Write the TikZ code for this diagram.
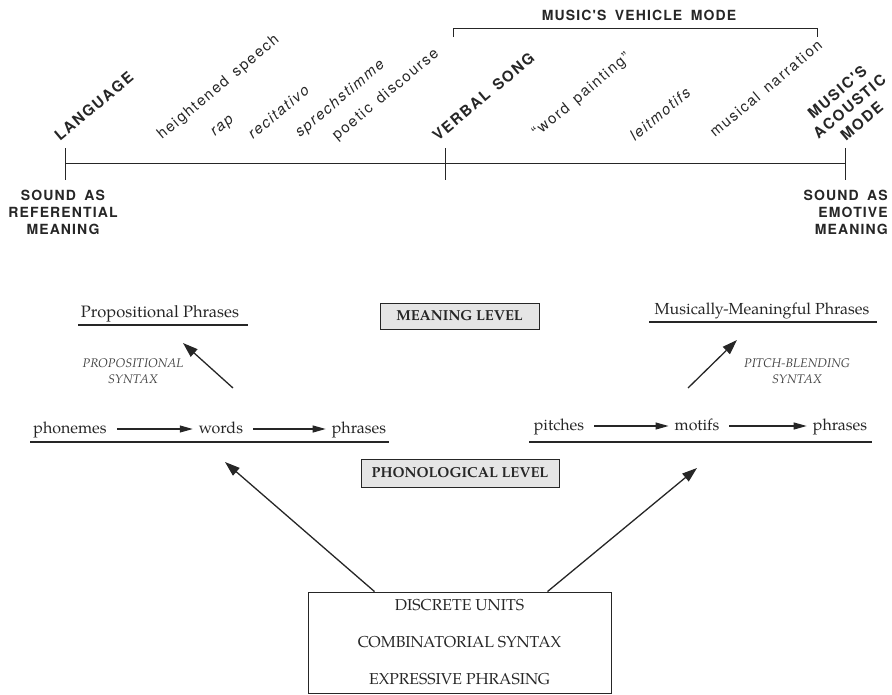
\documentclass[tikz,border=0pt]{standalone}
\usepackage{fontspec}
\setmainfont{TeX Gyre Pagella}
\newfontfamily\helv[LetterSpace=8,WordSpace=1.7]{TeX Gyre Heros}
\newfontfamily\helvr{TeX Gyre Heros}
\usetikzlibrary{arrows.meta}

% espacamento entre letras (para texto inclinado)
\makeatletter
\newcommand\espacar[1]{\espacar@#1\@nil}
\def\espacar@#1{\ifx#1\@nil\else#1\kern1.6pt\expandafter\espacar@\fi}
\makeatother
\newcommand\esp{\hspace{7pt}}

\begin{document}
\begin{tikzpicture}[x=1pt,y=1pt,color=black!85,
eixo/.style={line width=1pt},
rot/.style={rotate=40,anchor=base west,inner sep=0pt,
font=\helvr\fontsize{15}{18}\selectfont},
rotit/.style={rot,font=\helvr\itshape\fontsize{15}{18}\selectfont},
rotcap/.style={rot,font=\helvr\bfseries\fontsize{15}{19}\selectfont},
capa/.style={inner sep=0pt,align=center,
font=\helv\bfseries\fontsize{14}{17}\selectfont},
pal/.style={inner sep=0pt,anchor=base,text height=12pt,text depth=4pt,
font=\fontsize{16}{18}\selectfont},
sub/.style={line width=2.2pt},
nivel/.style={draw,fill=black!10,line width=0.8pt,inner sep=0pt,
minimum height=26pt,
font=\bfseries\fontsize{14.5}{17}\selectfont},
sintaxe/.style={align=center,inner sep=0pt,color=black!75,
font=\itshape\fontsize{12.5}{16}\selectfont},
seta/.style={-{Triangle[length=13pt,width=7pt]},line width=1.1pt,
shorten <=10pt,shorten >=6pt},
grande/.style={-{Triangle[length=15pt,width=10pt]},line width=1.3pt},
caixa/.style={draw,line width=0.9pt,align=center,
minimum width=303pt,minimum height=101pt,
font=\fontsize{15.8}{37}\selectfont}
]
\useasboundingbox (0,0) rectangle (892,-694);

% eixo
\coordinate (lang) at (65,-163);
\coordinate (verb) at (445,-163);
\coordinate (acou) at (845,-163);
\draw[eixo] (lang) -- (acou);
\foreach \p in {lang,verb,acou}
\draw[eixo] ([yshift=15pt]\p) -- ([yshift=-17pt]\p);

% modo veiculo
\draw[eixo] (453,-37) -- (453,-28) -- (817,-28) -- (817,-37);
\node[capa] (vehicle) at (639,-15) {MUSIC'S VEHICLE MODE};

% rotulos inclinados
\node[rotcap] (language) at (60,-142) {\espacar{LANGUAGE}};
\node[rot] (heightened) at (162,-140) {\espacar{heightened}\esp\espacar{speech}};
\node[rotit] (rap) at (215,-137) {\espacar{rap}};
\node[rotit] (recit) at (253,-140) {\espacar{recitativo}};
\node[rotit] (sprech) at (300,-138) {\espacar{sprechstimme}};
\node[rot] (poetic) at (337,-141) {\espacar{poetic}\esp\espacar{discourse}};
\node[rotcap] (verbal) at (438,-142) {\espacar{VERBAL}\esp\espacar{SONG}};
\node[rot] (painting) at (537,-138) {\espacar{“word}\esp\espacar{painting”}};
\node[rotit] (leit) at (635,-142) {\espacar{leitmotifs}};
\node[rot] (narration) at (715,-138) {\espacar{musical}\esp\espacar{narration}};
\node[rotcap,anchor=center,align=center] (acoustic) at (850,-106)
{\espacar{MUSIC'S}\\\espacar{ACOUSTIC}\\\espacar{MODE}};

% extremos
\node[capa] (referential) at (63,-212) {SOUND AS\\REFERENTIAL\\MEANING};
\node[capa,align=right,anchor=east] (emotive) at (888,-212) {SOUND AS\\EMOTIVE\\MEANING};

% niveis
\node[nivel,minimum width=159pt] (meaning) at (459.5,-316) {MEANING LEVEL};
\node[nivel,minimum width=198pt,minimum height=28pt] (phon) at (460,-473) {PHONOLOGICAL LEVEL};

% lado da linguagem
\node[pal,font=\fontsize{16.5}{18}\selectfont] (propphr) at (160,-317) {Propositional Phrases};
\draw[sub] (78,-325) -- (248,-325);
\node[sintaxe] (propsyntax) at (133,-371) {PROPOSITIONAL\\SYNTAX};
\coordinate (ps0) at (233,-388);
\coordinate (ps1) at (183,-343);
\draw[grande] (ps0) -- (ps1);
\node[pal] (phonemes) at (70,-433) {phonemes};
\node[pal] (words) at (221,-433) {words};
\node[pal] (lphrases) at (359,-433) {phrases};
\draw[seta] (phonemes.east) -- (words.west);
\draw[seta] (words.east) -- (lphrases.west);
\draw[sub] (30,-442) -- (389,-442);

% lado da musica
\node[pal] (musphr) at (762,-314) {Musically-Meaningful Phrases};
\draw[sub] (649,-322) -- (877,-322);
\node[sintaxe] (pitchsyntax) at (797,-371) {PITCH-BLENDING\\SYNTAX};
\coordinate (pb0) at (688,-388);
\coordinate (pb1) at (737,-340);
\draw[grande] (pb0) -- (pb1);
\node[pal] (pitches) at (559,-430) {pitches};
\node[pal] (motifs) at (697,-430) {motifs};
\node[pal] (mphrases) at (840,-430) {phrases};
\draw[seta] (pitches.east) -- (motifs.west);
\draw[seta] (motifs.east) -- (mphrases.west);
\draw[sub] (529,-442) -- (872,-442);

% caixa de baixo
\node[caixa] (units) at (459.5,-642.5) {DISCRETE UNITS\\COMBINATORIAL SYNTAX\\EXPRESSIVE PHRASING};
\coordinate (esq) at (225,-462);
\coordinate (dir) at (697,-468);
\draw[grande] ([xshift=-85pt]units.north) -- (esq);
\draw[grande] ([xshift=88pt]units.north) -- (dir);

\end{tikzpicture}
\end{document}
